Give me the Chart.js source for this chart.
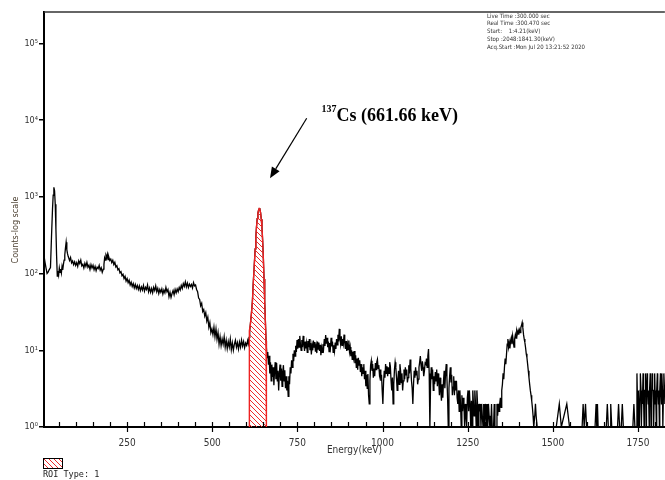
<!DOCTYPE html>
<html>
<head>
<meta charset="utf-8">
<script src="https://cdn.jsdelivr.net/npm/chart.js@4.4.1/dist/chart.umd.min.js"></script>
<style>
  html, body { margin: 0; padding: 0; background: #fff; }
  canvas { display: block; }
</style>
</head>
<body>
<canvas id="spectrum" width="665" height="480"></canvas>
<script>
// Gamma spectrum: channel energy (keV) and counts per channel, row by row
const energies = [
  // low-energy X-ray region
  6, 9, 12, 15, 18, 21, 25, 28, 31, 33,
  35, 37, 39, 41, 43, 45, 47, 49, 51, 53,
  55, 57, 59, 61, 63, 65, 67, 69, 71, 73,
  75, 77,
  // Compton continuum
  81, 84, 87, 90, 93, 96, 99, 102, 105, 108,
  111, 114, 117, 120, 123, 126, 129, 132, 135, 138,
  141, 144, 147, 150, 153, 156, 159, 162, 165, 168,
  171, 174, 177, 180, 182, 184, 186, 188, 190, 192,
  194, 196, 199, 202, 205, 208, 211, 214, 217, 220,
  223, 226, 229, 232, 235, 238, 241, 244, 247, 250,
  253, 256, 259, 262, 265, 268, 271, 274, 277, 280,
  283, 286, 289, 292, 295, 298, 301, 304, 307, 310,
  313, 316, 319, 322, 325, 328, 331, 334, 337, 340,
  343, 346, 349, 352, 355, 358, 361, 364, 367, 370,
  373, 376, 379, 382, 385, 388, 391, 394, 397, 400,
  403, 406, 409, 412, 415, 418, 421, 424, 427, 430,
  433, 436, 439, 442, 445, 448, 451, 454, 457, 460,
  463, 466, 469, 472, 475, 478, 481, 484, 487, 490,
  493, 496, 499, 502, 505, 508, 511, 514, 517, 520,
  523, 526, 529, 532, 535, 538, 541, 544, 547, 550,
  553, 556, 559, 562, 565, 568, 571, 574, 577, 580,
  583, 586, 589, 592, 595, 598, 601, 604, 606, 608,
  // photopeak
  610, 612, 615, 618, 620, 623, 626, 628, 630, 632,
  634, 636, 638, 639, 640, 642, 644, 646, 648, 650,
  652, 654, 656, 658,
  // above the photopeak
  659, 661, 663, 665, 667, 669, 671, 673, 675, 677,
  679, 681, 683, 685, 687, 689, 691, 693, 695, 697,
  699, 701, 703, 705, 707, 709, 711, 713, 715, 717,
  719, 721, 723, 725, 727, 729, 731, 733, 735, 737,
  739, 741, 743, 745, 747, 749, 751, 753, 755, 757,
  759, 761, 763, 765, 767, 769, 771, 773, 775, 777,
  779, 781, 783, 785, 787, 789, 791, 793, 795, 797,
  799, 801, 803, 805, 807, 809, 811, 813, 815, 817,
  819, 821, 823, 825, 827, 829, 831, 833, 835, 837,
  839, 841, 843, 845, 847, 849, 851, 853, 855, 857,
  859, 861, 863, 865, 867, 869, 871, 873, 875, 877,
  879, 881, 883, 885, 887, 889, 891, 893, 895, 897,
  899, 901, 903, 905, 907, 909, 911, 913, 915, 917,
  919, 921, 923, 925, 927, 929, 931, 933, 935, 937,
  939, 941, 943, 945, 947, 949, 951, 953, 955, 957,
  959, 961, 963, 965, 967, 969, 971, 973, 975, 977,
  979, 981, 983, 985, 987, 989, 991, 993, 995, 997,
  999, 1001, 1003, 1005, 1007, 1009, 1011, 1013, 1015, 1017,
  1019, 1021, 1023, 1025, 1027, 1029, 1031, 1033, 1035, 1037,
  1039, 1041, 1043, 1045, 1047, 1049, 1051, 1053, 1055, 1057,
  1059, 1061, 1063, 1065, 1067, 1069, 1071, 1073, 1075, 1077,
  1079, 1081, 1083, 1085, 1087, 1089, 1091, 1093, 1095, 1097,
  1099, 1101, 1103, 1105, 1107, 1109, 1111, 1113, 1115, 1117,
  1119, 1121, 1123, 1125, 1127, 1129, 1131, 1133, 1135, 1137,
  1139, 1141, 1143,
  1145, 1147, 1149, 1151, 1153, 1155, 1157, 1159, 1161, 1163,
  1165, 1167, 1169, 1171, 1173, 1175, 1177, 1179, 1181, 1183,
  1185, 1187, 1189, 1191, 1193, 1195, 1197, 1199, 1201, 1203,
  1205, 1207, 1209, 1211, 1213, 1215, 1217, 1219, 1221, 1223,
  1225, 1227, 1229, 1231, 1233, 1235, 1237, 1239, 1241, 1243,
  1245, 1247, 1249, 1251, 1253, 1255, 1257, 1259, 1261, 1263,
  1265, 1267, 1269, 1271, 1273, 1275, 1277, 1279, 1281, 1283,
  1285, 1287, 1289, 1291, 1293, 1295, 1297, 1299, 1301, 1303,
  1305, 1307, 1309, 1311, 1313, 1315, 1318, 1320, 1322, 1326,
  1328, 1330, 1334, 1336, 1338, 1340, 1342, 1344, 1346, 1348,
  1350,
  // 40K peak
  1352, 1354, 1356, 1358, 1360, 1362, 1364, 1366, 1368, 1370,
  1372, 1374, 1376, 1378, 1380, 1382, 1384, 1386, 1388, 1390,
  1392, 1394, 1396, 1398, 1400, 1402, 1404, 1406, 1408, 1410,
  1412, 1414, 1416, 1418, 1420, 1422, 1424, 1426, 1428, 1430,
  1432, 1434, 1436, 1438, 1440, 1442, 1444, 1447, 1449, 1451,
  1454,
  // high-energy tail
  1480, 1508, 1510, 1519, 1525, 1541, 1549, 1586, 1589, 1592,
  1594, 1596, 1599, 1624, 1627, 1629, 1631, 1633, 1657, 1660,
  1663, 1668, 1670, 1673, 1690, 1693, 1696, 1701, 1704, 1707,
  1735, 1738, 1741,
  1745, 1747, 1748, 1750, 1751, 1753, 1754, 1756, 1757, 1759,
  1760, 1762, 1763, 1765, 1766, 1768, 1769, 1771, 1772, 1774,
  1775, 1777, 1778, 1780, 1781, 1783, 1784, 1786, 1787, 1789,
  1790, 1792, 1793, 1795, 1796, 1798, 1799, 1801, 1802, 1804,
  1805, 1807, 1808, 1810, 1811, 1813, 1814, 1816, 1817, 1819,
  1820, 1822, 1823, 1825, 1826, 1828, 1829, 1831
];

const counts = [
  // low-energy X-ray region
  170, 140, 118, 100, 104, 112, 120, 300, 700, 1050,
  1330, 1200, 800, 380, 170, 93, 108, 96, 118, 104,
  115, 102, 124, 112, 132, 150, 175, 215, 256, 205,
  182, 168,
  // Compton continuum
  148, 162, 138, 146, 131, 142, 128, 139, 124, 146,
  135, 150, 126, 132, 118, 136, 124, 140, 121, 129,
  113, 131, 118, 128, 112, 124, 109, 121, 116, 128,
  111, 119, 104, 114, 132, 160, 150, 172, 162, 178,
  152, 166, 148, 155, 139, 149, 131, 140, 122, 127,
  112, 116, 102, 106, 94, 98, 86, 92, 80, 86,
  76, 82, 71, 77, 68, 74, 65, 72, 64, 70,
  62, 69, 60, 67, 61, 70, 59, 66, 62, 71,
  58, 65, 57, 64, 56, 66, 60, 69, 58, 64,
  55, 62, 57, 63, 54, 61, 56, 66, 58, 62,
  50, 57, 49, 55, 60, 53, 62, 56, 63, 58,
  66, 61, 70, 64, 74, 68, 78, 67, 75, 66,
  73, 68, 72, 65, 76, 69, 71, 62, 58, 48,
  46, 38, 41, 32, 34, 28, 31, 24, 27, 20,
  23, 17, 19, 16, 20, 15, 19, 14, 17, 12,
  15, 11.5, 14, 12, 15, 11, 13.5, 10.5, 13, 11,
  14, 10.2, 12.5, 10, 12, 13.5, 11, 12.6, 10.4, 12.8,
  11, 13.6, 11.4, 13, 10.8, 12.4, 11.6, 13.4, 12.2, 14.7,
  // photopeak
  18, 22, 30, 44, 70, 120, 210, 300, 410, 520,
  610, 670, 705, 715, 700, 620, 510, 400, 270, 162,
  85, 44, 24, 13.3,
  // above the photopeak
  11, 8, 9.5, 6.5, 8.5, 5, 7, 4, 6.5, 4.5,
  6, 3.5, 5.5, 7, 4.2, 6.8, 4, 5.4, 3, 5,
  6.5, 4, 5.8, 3.4, 5.2, 6.4, 4, 5.5, 3.2, 4.6,
  3, 4, 2.5, 4.6, 3.6, 6, 5, 7.4, 6, 9,
  7.2, 10, 8.4, 11.5, 9.5, 13.6, 10.5, 14, 11, 15.4,
  12, 10, 13.6, 11, 15.4, 12, 9.8, 13, 10.6, 12.4,
  9.4, 13.2, 11, 14, 10, 12.4, 8.8, 11.6, 10, 13.4,
  11, 12.8, 9.6, 11.4, 9.2, 13, 10.4, 12.6, 9.8, 11.8,
  8.6, 10.8, 9.4, 12, 10.6, 14, 11.4, 15.8, 12.2, 14.6,
  11, 13, 9.6, 12.4, 10.8, 14.6, 11.2, 13, 9.4, 11.6,
  9.8, 12.6, 10.4, 14, 11.8, 16, 13, 19, 14.2, 12,
  15.2, 11.6, 14, 12.2, 16, 12.6, 10.4, 13.2, 9.8, 12,
  10.2, 13.4, 9.6, 11, 8.4, 10, 7.6, 9.6, 8, 9.8,
  6.8, 8.6, 6, 7.8, 5.6, 8, 6.4, 7.4, 5.2, 6.6,
  4.6, 6, 5, 6.6, 4.2, 5.4, 3.4, 4.8, 3.2, 4.9,
  2.6, 2, 4, 6.4, 7.3, 5.4, 6.6, 4.4, 5.8, 4.6,
  6.8, 5.6, 7, 7.6, 5.8, 6.4, 4.8, 5.6, 4, 4.8,
  3, 2, 3.8, 5.4, 4.4, 6.6, 5, 6.2, 4.6, 6,
  5, 7, 6.2, 4, 3, 4.4, 2, 3.6, 5.6, 7,
  6, 4.4, 3, 4.2, 5.4, 3.6, 6.6, 5.4, 3.8, 5,
  3, 4, 5.6, 4.2, 6, 4.8, 5.6, 3.8, 4.4, 6.4,
  5, 7.6, 5.8, 4, 3.2, 2, 3.6, 5.4, 4.4, 6,
  4.8, 5.4, 3.6, 4.2, 6, 7, 8.4, 6.4, 5.4, 7.2,
  6, 4.6, 5.4, 6.8, 6.6, 7.8, 6, 8.4, 10.4, 5,
  1, 3.5, 6,
  4.2, 5.6, 3, 4.6, 3.6, 5.2, 4, 5.6, 3.4, 5,
  4, 2.6, 4.4, 3, 2.2, 3.6, 2.4, 4, 5.4, 3.2,
  5, 6.6, 4.4, 2.4, 1, 3.2, 4.6, 6, 3.8, 4.8,
  2.6, 3.3, 4.6, 2.6, 4, 3, 4, 2.4, 2, 3,
  1.6, 3, 2, 1, 2.6, 1.6, 2.4, 2, 1, 2,
  1.4, 1, 2.4, 3, 1.6, 3, 2, 1, 2.2, 1,
  3, 2, 1.4, 3, 2, 1, 3, 2, 1, 2,
  1.6, 2, 1, 2, 1.4, 1, 2, 1, 2, 1.4,
  1, 2, 1, 2, 1.4, 1, 1, 2, 1, 1,
  2, 1, 1, 2, 1.4, 2, 1.6, 2, 2.4, 1.8,
  3,
  // 40K peak
  3.6, 5, 4.2, 6, 7.8, 6.6, 8.9, 12, 14, 11,
  12.6, 10.6, 13.4, 14.6, 12, 15.4, 13, 11, 14.2, 16,
  14.4, 17.9, 16.4, 18, 16, 18.4, 17, 19.7, 21, 23,
  19.6, 16, 14, 12.6, 10.8, 9, 8, 6.6, 5.4, 4.4,
  3.6, 3, 2.6, 2.2, 1.8, 1.4, 1, 1.4, 2, 1.4,
  1,
  // high-energy tail
  1, 1, 1, 2, 1, 2, 1, 1, 2, 1,
  1, 2, 1, 1, 2, 1, 2, 1, 1, 2,
  1, 1, 2, 1, 1, 2, 1, 1, 2, 1,
  1, 2, 1,
  1, 5, 3, 1, 3, 3, 1, 3, 5, 3,
  1, 3, 2, 5, 3, 1, 3, 3, 5, 1,
  3, 5, 3, 2, 3, 1, 3, 5, 3, 1,
  2, 5, 3, 3, 1, 3, 5, 2, 3, 1,
  3, 5, 3, 2, 3, 1, 3, 5, 3, 2,
  5, 3, 1, 3, 5, 3, 2, 3
];

// Region of interest around the 137Cs photopeak (keV)
const roiRange = [608, 659];
const roiLegendLabel = 'ROI Type: 1';

// Axis ticks and labels
const energyLabels = [250, 500, 750, 1000, 1250, 1500, 1750];
const energyMinorStep = 50;
const decadeTicks = [1, 10, 100, 1000, 10000, 100000];
const decadeLabels = ['10\u2070', '10\u00B9', '10\u00B2', '10\u00B3', '10\u2074', '10\u2075'];

// Acquisition summary
const infoLines = [
  'Live Time :300.000 sec',
  'Real Time :300.470 sec',
  'Start:    1:4.21(keV)',
  'Stop :2048:1841.30(keV)',
  'Acq.Start :Mon Jul 20 13:21:52 2020'
];

const peakIsotope = '137';
const peakText = 'Cs (661.66 keV)';

const spectrumPoints = energies.map((e, i) => ({ x: e, y: counts[i] }));
const roiPoints = [{ x: roiRange[0], y: 1 }]
  .concat(spectrumPoints.filter(p => p.x >= roiRange[0] && p.x <= roiRange[1]))
  .concat([{ x: roiRange[1], y: 1 }]);

function makeHatch(size) {
  const pc = document.createElement('canvas');
  pc.width = size; pc.height = size;
  const g = pc.getContext('2d');
  g.strokeStyle = '#ee2a2a';
  g.lineWidth = 1;
  g.beginPath();
  g.moveTo(-1, -1); g.lineTo(size + 1, size + 1);
  g.moveTo(-size / 2 - 1, size / 2 - 1); g.lineTo(size / 2 + 1, size * 1.5 + 1);
  g.moveTo(size / 2 - 1, -size / 2 - 1); g.lineTo(size * 1.5 + 1, size / 2 + 1);
  g.stroke();
  return g.createPattern(pc, 'repeat');
}

const ctx = document.getElementById('spectrum').getContext('2d');
const hatch = makeHatch(5);

const decor = {
  id: 'decor',
  afterDraw(chart) {
    const c = chart.ctx;
    const area = chart.chartArea;
    const xs = chart.scales.x;
    c.save();

    // top frame line
    c.strokeStyle = '#333';
    c.lineWidth = 1.5;
    c.beginPath();
    c.moveTo(area.left, area.top);
    c.lineTo(area.right, area.top);
    c.stroke();

    // energy tick marks (inward; labelled ones cross the axis)
    c.strokeStyle = '#000';
    c.lineWidth = 1.2;
    xs.ticks.forEach(t => {
      const px = Math.round(xs.getPixelForValue(t.value)) + 0.5;
      const major = energyLabels.includes(t.value);
      c.beginPath();
      c.moveTo(px, area.bottom - 5);
      c.lineTo(px, area.bottom + (major ? 5 : 0));
      c.stroke();
    });

    // y-axis title
    c.save();
    c.translate(16, 230);
    c.rotate(-Math.PI / 2);
    c.fillStyle = '#4b3f30';
    c.font = '9px "DejaVu Sans Condensed", "DejaVu Sans", sans-serif';
    c.textAlign = 'center';
    c.textBaseline = 'middle';
    c.fillText('Counts-log scale', 0, 0);
    c.restore();

    // acquisition info block
    c.fillStyle = '#333';
    c.font = '6px "DejaVu Sans Condensed", "DejaVu Sans", sans-serif';
    c.textAlign = 'left';
    c.textBaseline = 'middle';
    infoLines.forEach((s, i) => c.fillText(s, 487, 16 + i * 7.8));

    // peak annotation
    c.fillStyle = '#000';
    c.textBaseline = 'alphabetic';
    c.font = 'bold 10px "Liberation Serif", "Times New Roman", serif';
    c.fillText(peakIsotope, 321.5, 111.5);
    c.font = 'bold 18px "Liberation Serif", "Times New Roman", serif';
    c.fillText(peakText, 336.5, 121);

    const x0 = 306.7, y0 = 118.3, x1 = 270, y1 = 178.3;
    const ang = Math.atan2(y1 - y0, x1 - x0);
    const hl = 11, hw = 4.5;
    const bx = x1 - hl * Math.cos(ang), by = y1 - hl * Math.sin(ang);
    c.strokeStyle = '#000';
    c.lineWidth = 1.2;
    c.beginPath();
    c.moveTo(x0, y0);
    c.lineTo(bx, by);
    c.stroke();
    c.beginPath();
    c.moveTo(x1, y1);
    c.lineTo(bx + hw * Math.sin(ang), by - hw * Math.cos(ang));
    c.lineTo(bx - hw * Math.sin(ang), by + hw * Math.cos(ang));
    c.closePath();
    c.fill();

    // ROI legend
    c.fillStyle = hatch;
    c.fillRect(43.5, 458.5, 19, 10);
    c.strokeStyle = '#000';
    c.lineWidth = 1;
    c.strokeRect(43.5, 458.5, 19, 10);
    c.fillStyle = '#222';
    c.font = '8.5px "DejaVu Sans Mono", monospace';
    c.textBaseline = 'middle';
    c.fillText(roiLegendLabel, 43, 474.5);

    c.restore();
  }
};

new Chart(ctx, {
  type: 'line',
  data: {
    datasets: [
      {
        label: roiLegendLabel,
        data: roiPoints,
        borderColor: '#ee2222',
        borderWidth: 1.4,
        backgroundColor: hatch,
        fill: 'start',
        pointRadius: 0,
        tension: 0,
        order: 0
      },
      {
        label: 'Counts',
        data: spectrumPoints,
        borderColor: '#000',
        borderWidth: 1.3,
        fill: false,
        pointRadius: 0,
        tension: 0,
        order: 1
      }
    ]
  },
  options: {
    responsive: false,
    animation: false,
    devicePixelRatio: 1,
    layout: { padding: { top: 12, right: 0, left: 0, bottom: 0 } },
    plugins: {
      legend: { display: false },
      tooltip: { enabled: false },
      title: { display: false }
    },
    scales: {
      x: {
        type: 'linear',
        min: 6,
        max: 1829,
        afterBuildTicks(scale) {
          const t = [];
          for (let v = energyMinorStep; v <= 1800; v += energyMinorStep) t.push({ value: v });
          scale.ticks = t;
        },
        afterFit(scale) { scale.height = 53; },
        grid: { display: false, drawTicks: false },
        border: { display: true, color: '#000', width: 2 },
        ticks: {
          autoSkip: false,
          maxRotation: 0,
          padding: 10,
          color: '#333',
          font: { family: '"DejaVu Sans Condensed", "DejaVu Sans", sans-serif', size: 10 },
          callback: v => energyLabels.includes(v) ? String(v) : ''
        },
        title: {
          display: true,
          text: 'Energy(keV)',
          color: '#333',
          padding: { top: 0, bottom: 24 },
          font: { family: '"DejaVu Sans Condensed", "DejaVu Sans", sans-serif', size: 10 }
        }
      },
      y: {
        type: 'logarithmic',
        min: 1,
        max: 257000,
        afterBuildTicks(scale) {
          scale.ticks = decadeTicks.map(v => ({ value: v }));
        },
        afterFit(scale) { scale.width = 44; },
        grid: { drawOnChartArea: false, drawTicks: true, tickLength: 5, color: '#000', lineWidth: 1.5 },
        border: { display: true, color: '#000', width: 2 },
        ticks: {
          padding: 1,
          color: '#333',
          font: { family: '"DejaVu Sans Condensed", "DejaVu Sans", sans-serif', size: 9 },
          callback: v => {
            const i = decadeTicks.indexOf(v);
            return i >= 0 ? decadeLabels[i] : '';
          }
        }
      }
    }
  },
  plugins: [decor]
});
</script>
</body>
</html>
